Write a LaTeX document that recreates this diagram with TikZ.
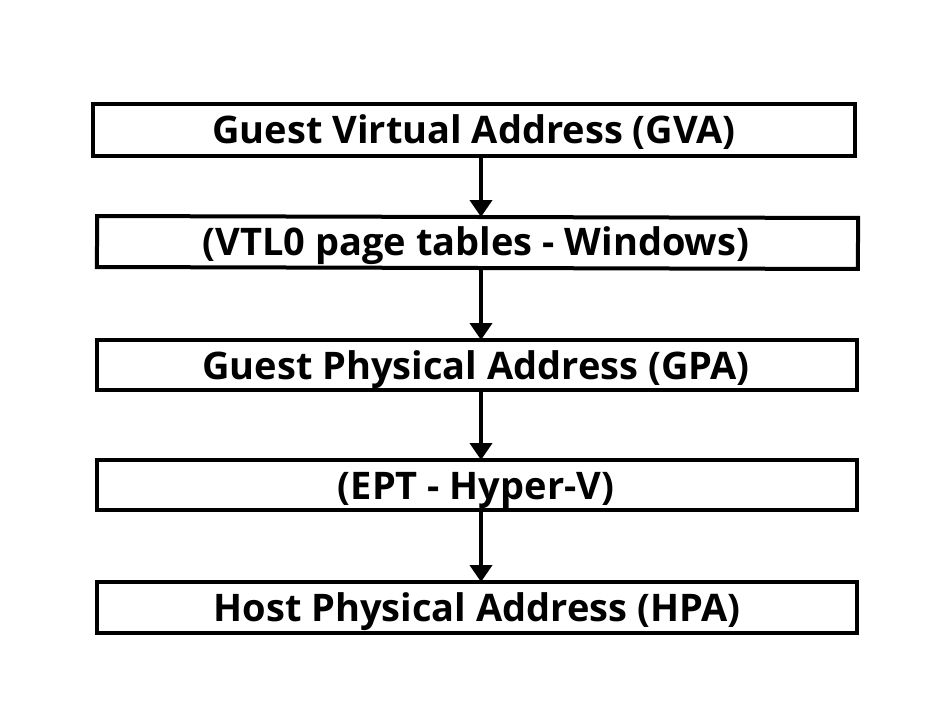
\documentclass[tikz,border=0pt]{standalone}
\usepackage{fontspec}
\setmainfont{Open Sans}
\usetikzlibrary{arrows.meta}
\begin{document}
\begin{tikzpicture}[x=1pt,y=-1pt,
  box/.style={draw=black,line width=4pt,inner sep=0pt},
  lbl/.style={inner sep=0pt,anchor=base,font=\fontsize{38}{40}\selectfont\bfseries},
  arr/.style={line width=4pt,-{Triangle[width=22pt,length=17pt]},shorten >=-2pt}]
\useasboundingbox (0,0) rectangle (940,722);
\node[box,minimum width=762pt,minimum height=52pt] (gva) at (474,130) {};
\node[box,minimum width=761pt,minimum height=51pt,rotate=-0.15] (vtl) at (477.5,242.5) {};
\node[box,minimum width=760pt,minimum height=50pt] (gpa) at (477,365) {};
\node[box,minimum width=760pt,minimum height=50pt] (ept) at (477,485) {};
\node[box,minimum width=760pt,minimum height=51pt] (hpa) at (477,607.5) {};
\node[lbl] (t1) at (474,144) {Guest Virtual Address (GVA)};
\node[lbl] (t2) at (476,256) {(VTL0 page tables - Windows)};
\node[lbl] (t3) at (476,379) {Guest Physical Address (GPA)};
\node[lbl] (t4) at (476,499) {(EPT - Hyper-V)};
\node[lbl] (t5) at (477,621) {Host Physical Address (HPA)};
\draw[arr] (gva.south -| 481,0) -- (vtl.north -| 481,0);
\draw[arr] (vtl.south -| 481,0) -- (gpa.north -| 481,0);
\draw[arr] (gpa.south -| 481,0) -- (ept.north -| 481,0);
\draw[arr] (ept.south -| 481,0) -- (hpa.north -| 481,0);
\end{tikzpicture}
\end{document}
